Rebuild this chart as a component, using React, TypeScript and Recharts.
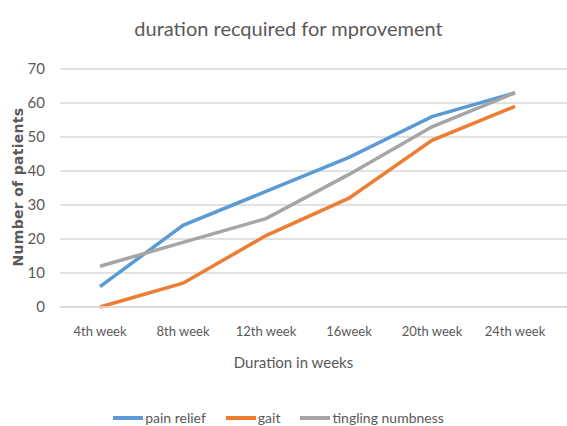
import React from "react";
import { LineChart, Line, XAxis, YAxis, CartesianGrid, Legend } from "recharts";

const categories = ["4th week", "8th week", "12th week", "16week", "20th week", "24th week"];
const painRelief = [6, 24, 34, 44, 56, 63];
const gait = [0, 7, 21, 32, 49, 59];
const tingling = [12, 19, 26, 39, 53, 63];
const yTicks = [0, 10, 20, 30, 40, 50, 60, 70];

const seriesInfo = [
  { key: "pain", name: "pain relief", color: "#5B9BD5" },
  { key: "gait", name: "gait", color: "#ED7D31" },
  { key: "ting", name: "tingling numbness", color: "#A5A5A5" },
];

const data = categories.map((c, i) => ({
  cat: c,
  pain: painRelief[i],
  gait: gait[i],
  ting: tingling[i],
}));

const FONT = "Lato, 'Open Sans', sans-serif";
const TEXT = "#595959";

const LegendContent = () => (
  <div style={{ display: "flex", justifyContent: "center", alignItems: "center", fontFamily: FONT, fontSize: 14, color: TEXT, paddingLeft: 10 }}>
    {seriesInfo.map((s) => (
      <div key={s.key} style={{ display: "flex", alignItems: "center", marginRight: 20 }}>
        <span style={{ display: "inline-block", width: 30, height: 4, background: s.color, marginRight: 2 }} />
        <span>{s.name}</span>
      </div>
    ))}
  </div>
);

export default function App() {
  return (
    <div style={{ position: "absolute", left: 0, top: 0, width: 567, height: 426, background: "#fff" }}>
      <div style={{ position: "absolute", left: 0, top: 16, width: 567, paddingLeft: 10, boxSizing: "border-box", textAlign: "center", fontFamily: FONT, fontSize: 20, color: TEXT }}>
        duration recquired for mprovement
      </div>
      <div style={{ position: "absolute", left: 0, top: 353, width: 567, paddingLeft: 20, boxSizing: "border-box", textAlign: "center", fontFamily: FONT, fontSize: 15, color: TEXT }}>
        Duration in weeks
      </div>
      <div style={{ position: "absolute", left: 18, top: 187, transform: "translate(-50%, -50%) rotate(-90deg)", whiteSpace: "nowrap", fontFamily: "'DejaVu Sans', sans-serif", fontSize: 14, fontWeight: 600, letterSpacing: 0.3, color: TEXT }}>
        Number of patients
      </div>
      <LineChart width={567} height={426} data={data} margin={{ top: 69, right: 0, bottom: 0, left: 0 }}>
        <CartesianGrid vertical={false} stroke="#D9D9D9" strokeWidth={1.5} />
        <XAxis
          dataKey="cat"
          axisLine={{ stroke: "#D9D9D9", strokeWidth: 1.5 }}
          tickLine={false}
          padding={{ left: 40, right: 52 }}
          height={97}
          tickMargin={14}
          tick={{ fill: TEXT, fontFamily: FONT, fontSize: 13 }}
          interval={0}
        />
        <YAxis
          domain={[0, 70]}
          ticks={yTicks}
          width={60}
          axisLine={false}
          tickLine={false}
          tickSize={0}
          tickMargin={15}
          tick={{ fill: TEXT, fontFamily: FONT, fontSize: 15 }}
        />
        <Legend verticalAlign="bottom" align="center" content={<LegendContent />} wrapperStyle={{ bottom: -5, height: 22 }} />
        {seriesInfo.map((s) => (
          <Line
            key={s.key}
            type="linear"
            dataKey={s.key}
            name={s.name}
            stroke={s.color}
            strokeWidth={3.5}
            dot={false}
            isAnimationActive={false}
          />
        ))}
      </LineChart>
    </div>
  );
}
